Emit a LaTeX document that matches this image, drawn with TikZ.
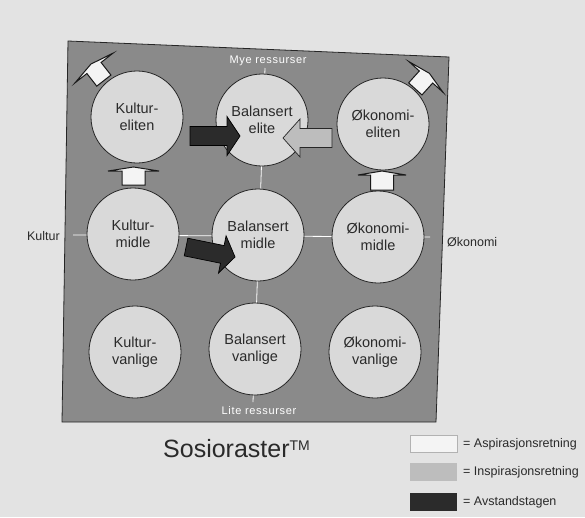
\documentclass[tikz,border=0pt]{standalone}
\usepackage{fontspec}
\setmainfont{Liberation Sans}
\newfontfamily\spacedfont[LetterSpace=6]{Liberation Sans}
\definecolor{pagebg}{HTML}{E3E3E3}
\definecolor{panelbg}{HTML}{8A8A8A}
\definecolor{discbg}{HTML}{D9D9D9}
\definecolor{darkarr}{HTML}{2B2B2B}
\definecolor{grayarr}{HTML}{BDBDBD}
\definecolor{whitearr}{HTML}{F4F4F4}
\definecolor{txt}{HTML}{2A2A2A}
% #1 x, #2 y (head base centre), #3 angle, #4 body length, #5 body width, #6 head length, #7 head width, #8 style
\newcommand{\arrowshape}[8]{%
  \begin{scope}[shift={(#1,#2)},rotate=#3]
    \draw[#8] (-#4,-#5/2) -- (0,-#5/2) -- (0,-#7/2) -- (#6,0) -- (0,#7/2) -- (0,#5/2) -- (-#4,#5/2) -- cycle;
  \end{scope}}
\tikzset{
  disc/.style={circle, draw=black!85, line width=0.8pt, fill=discbg, minimum size=92pt,
    inner sep=0pt, align=center, text=txt, font=\fontsize{14.5}{17.5}\selectfont},
  axislabel/.style={text=txt, font=\fontsize{12.5}{14}\selectfont, inner sep=0pt},
  rangelabel/.style={text=white, font=\spacedfont\fontsize{11}{13}\selectfont, inner sep=0pt},
  legendtext/.style={anchor=west, text=txt, font=\fontsize{12.5}{14}\selectfont, inner sep=0pt},
  darkstyle/.style={fill=darkarr, draw=black, line width=0.7pt, line join=miter},
  graystyle/.style={fill=grayarr, draw=black!85, line width=0.7pt},
  whitestyle/.style={fill=whitearr, draw=black!90, line width=1pt},
}
\begin{document}
\begin{tikzpicture}[x=1pt, y=-1pt]
\useasboundingbox (0,0) rectangle (585,517);
\fill[pagebg] (0,0) rectangle (585,517);
% panel
\draw[fill=panelbg, draw=black!85, line width=0.8pt] (68,41) -- (449,57) -- (436,422) -- (62,422) -- cycle;
% axis lines
\draw[white, line width=0.8pt] (73,235) -- (430,237);
\draw[white, line width=0.8pt] (265,68) -- (253,402);
% range labels
\node[rangelabel] (mye) at (268,61) {Mye ressurser};
\node[rangelabel] (lite) at (259,411) {Lite ressurser};
% circles
\node[disc] (ke) at (137,117) {Kultur-\\eliten};
\node[disc] (be) at (262,120) {Balansert\\elite};
\node[disc] (oe) at (383,124) {Økonomi-\\eliten};
\node[disc] (km) at (133,234) {Kultur-\\midle};
\node[disc] (bm) at (258,235) {Balansert\\midle};
\node[disc] (om) at (378,237) {Økonomi-\\midle};
\node[disc] (kv) at (135,352) {Kultur-\\vanlige};
\node[disc] (bv) at (255,349) {Balansert\\vanlige};
\node[disc] (ov) at (375,352) {Økonomi-\\vanlige};
% dark arrows
\arrowshape{227}{136}{0}{37}{19}{13}{39}{darkstyle}
\arrowshape{222.3}{254.4}{-11.5}{37}{18}{13}{38}{darkstyle}
% gray arrow
\arrowshape{300}{138}{180}{32}{19}{17}{38}{graystyle}
% white arrows
\arrowshape{133.5}{171}{90}{14}{23}{4}{51}{whitestyle}
\arrowshape{382}{175}{90}{15}{23}{4}{48}{whitestyle}
\arrowshape{94}{68}{128}{16}{18}{5}{48}{whitestyle}
\arrowshape{426}{77}{48}{16}{18}{5}{46}{whitestyle}
% axis labels
\node[axislabel, anchor=east] (kultur) at (60,236) {Kultur};
\node[axislabel, anchor=west] (okonomi) at (447,242) {Økonomi};
% title
\node[anchor=base west, inner sep=0pt, text=txt, font=\fontsize{25}{28}\selectfont] (title) at (163,457)
  {Sosioraster\raisebox{7pt}{\fontsize{14}{14}\selectfont TM}};
% legend
\draw[fill=whitearr, draw=black!30, line width=0.6pt] (410,435) rectangle (457,452);
\fill[grayarr] (410,463) rectangle (457,481);
\fill[darkarr] (410,493) rectangle (457,511);
\node[legendtext] (l1) at (463,444) {= Aspirasjonsretning};
\node[legendtext] (l2) at (463,472) {= Inspirasjonsretning};
\node[legendtext] (l3) at (463,502) {= Avstandstagen};
\end{tikzpicture}
\end{document}
